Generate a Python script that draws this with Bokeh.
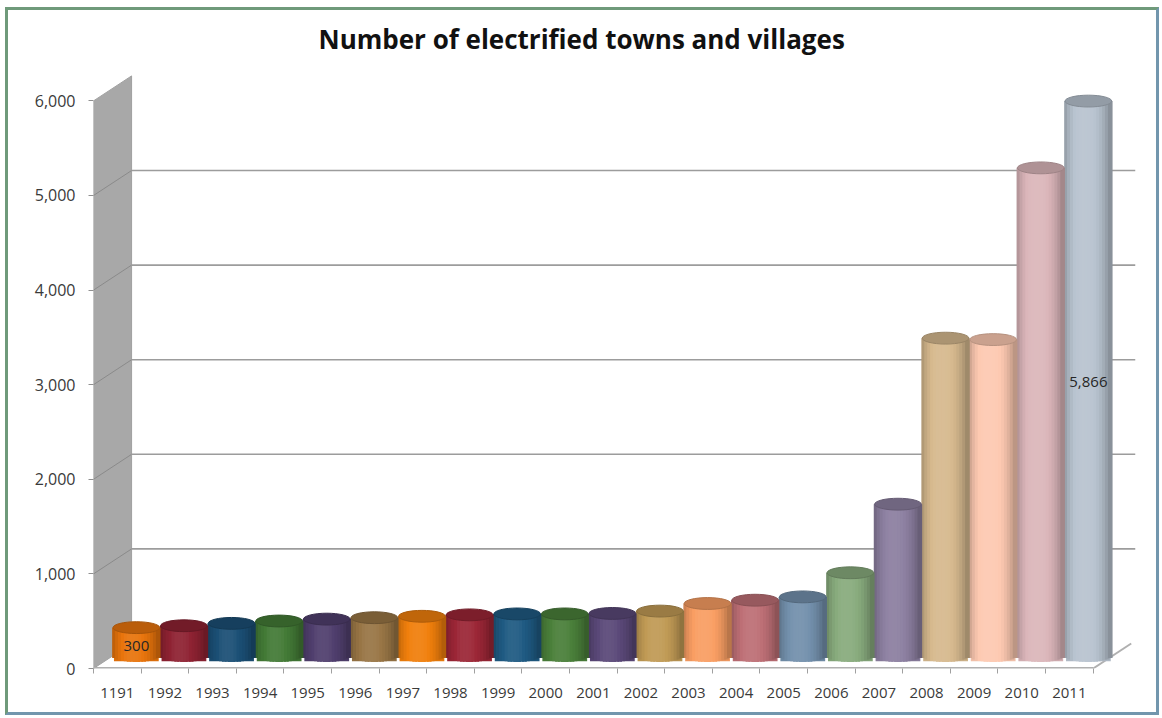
import math
from bokeh.plotting import figure
from bokeh.models import FixedTicker, NumeralTickFormatter
from bokeh.core.properties import value
from bokeh.embed import file_html
from bokeh.resources import INLINE

# ---------------- data ----------------
years = ["1191", "1992", "1993", "1994", "1995", "1996", "1997", "1998", "1999", "2000",
         "2001", "2002", "2003", "2004", "2005", "2006", "2007", "2008", "2009", "2010", "2011"]
towns = [300, 320, 345, 370, 390, 405, 420, 435, 445, 445,
         450, 475, 555, 590, 625, 880, 1605, 3360, 3345, 5160, 5866]
bar_colors = ["#e8740c", "#8e2232", "#1b4f75", "#437a36", "#503f6e", "#987545", "#f07f0c",
              "#9b2636", "#1f5a82", "#4a7f3a", "#5a4878", "#c09a55", "#f99e63", "#bd6f75",
              "#7390ac", "#88ab7d", "#8c7fa0", "#d6b98e", "#fdc9b1", "#dbb6ba", "#b8c3cf"]
y_ticks = [0, 1000, 2000, 3000, 4000, 5000, 6000]
labelled = [0, 20]          # bars that carry a data label
title_text = "Number of electrified towns and villages"

# ---------------- geometry / style ----------------
DX, DY = 0.8, 264           # 3-D depth offset (categories, value units)
BW = 0.98                   # bar width
EH = 125                    # ellipse height in value units
K = 16                      # shading strips per cylinder
X0, X1 = -0.5, 21.39
Y0, Y1 = 0, 6427
FONT = value("Open Sans")


def shade(hex_color, f):
    r, g, b = (int(hex_color[i:i + 2], 16) for i in (1, 3, 5))
    def one(c):
        if f >= 1:
            return int(round(c + (255 - c) * (f - 1) * 1.6))
        return int(round(c * f))
    return "#%02x%02x%02x" % tuple(max(0, min(255, one(c))) for c in (r, g, b))


def profile(t):
    if t < 0.42:
        return 1.04 - 0.26 * ((0.42 - t) / 0.42) ** 2.5
    return 1.04 - 0.34 * ((t - 0.42) / 0.58) ** 2.5


p = figure(width=1162, height=718, x_range=(X0, X1), y_range=(Y0, Y1),
           output_backend="svg", toolbar_location=None,
           min_border_left=93, min_border_right=27, min_border_top=60, min_border_bottom=50)
p.background_fill_color = "white"
p.border_fill_color = "white"
p.outline_line_color = None
p.xgrid.visible = False
p.ygrid.visible = False

p.title.text = title_text
p.title.align = "left"
p.title.offset = 225
p.title.text_font = "Open Sans"
p.title.text_font_size = "26px"
p.title.text_font_style = "bold"
p.title.text_color = "#111111"
p.title.standoff = 8

# side wall
p.patch([X0, X0, X0 + DX, X0 + DX], [0, y_ticks[-1], y_ticks[-1] + DY, DY],
        fill_color="#a8a8a8", line_color="#a0a0a0", line_width=1)
inner = y_ticks[1:-1]
p.segment(x0=[X0] * len(inner), y0=inner, x1=[X0 + DX] * len(inner), y1=[v + DY for v in inner],
          line_color="#8a8a8a", line_width=1)
p.segment(x0=[X0 + DX] * len(inner), y0=[v + DY for v in inner], x1=[X1] * len(inner),
          y1=[v + DY for v in inner], line_color="#9c9c9c", line_width=1.6)

# floor edges
n = len(years)
p.segment(x0=[X0], y0=[0], x1=[n - 0.5], y1=[0], line_color="#b0b0b0", line_width=3)
p.segment(x0=[n - 0.5], y0=[0], x1=[n - 0.5 + DX], y1=[DY], line_color="#b0b0b0", line_width=2)

# cylinders
centers = [i + DX / 2 for i in range(n)]
base = DY / 2
tops = [base + v for v in towns]
p.vbar(x=centers, width=BW * 0.96, bottom=[base - EH / 2 * 0.9] * n, top=tops,
       fill_color=[shade(c, 0.95) for c in bar_colors], line_color=None)
sw = BW / K
for k in range(K):
    t = (k + 0.5) / K
    xs = [c - BW / 2 + (k + 0.5) * sw for c in centers]
    dip = (EH / 2) * math.sqrt(max(0.0, 1 - (2 * t - 1) ** 2))
    bottoms = [base - dip] * n
    cols = [shade(c, profile(t)) for c in bar_colors]
    p.vbar(x=xs, width=sw * 1.6, bottom=bottoms, top=tops, fill_color=cols, line_color=None)

p.ellipse(x=centers, y=tops, width=BW, height=EH,
          fill_color=[shade(c, 0.8) for c in bar_colors],
          line_color=[shade(c, 0.72) for c in bar_colors], line_width=1)

# data labels
p.text(x=[centers[i] for i in labelled], y=[base + towns[i] / 2 - 40 for i in labelled],
       text=["{:,}".format(towns[i]) for i in labelled],
       text_font=FONT, text_font_size="15px", text_color="#262626",
       text_align="center", text_baseline="middle")

# axes
ya = p.yaxis[0]
ya.ticker = FixedTicker(ticks=y_ticks)
ya.formatter = NumeralTickFormatter(format="0,0")
ya.axis_line_color = None
ya.major_tick_out = 5
ya.major_tick_in = 0
ya.major_tick_line_color = "#909090"
ya.minor_tick_line_color = None
ya.major_label_standoff = 13
ya.major_label_text_font = "Open Sans"
ya.major_label_text_font_size = "16px"
ya.major_label_text_color = "#3a3a3a"

xa = p.xaxis[0]
xa.ticker = FixedTicker(ticks=list(range(n)), minor_ticks=[i - 0.5 for i in range(n + 1)])
xa.major_label_overrides = {i: y for i, y in enumerate(years)}
xa.axis_line_color = None
xa.major_tick_line_color = None
xa.major_tick_out = 0
xa.major_tick_in = 0
xa.minor_tick_line_color = "#a0a0a0"
xa.minor_tick_out = 5
xa.minor_tick_in = 0
xa.major_label_standoff = 14
xa.major_label_text_font = "Open Sans"
xa.major_label_text_font_size = "15px"
xa.major_label_text_color = "#3a3a3a"

html = file_html(p, INLINE)
frame_div = ('<div style="position:fixed;left:5px;top:7px;width:1148px;height:702px;'
             'border:3px solid #7296ad;border-top-color:#6f9a7a;border-left-color:#6f9a7a;'
             'pointer-events:none;z-index:10"></div>')
html = html.replace("</body>", frame_div + "</body>")
open("out.html", "w").write(html)
